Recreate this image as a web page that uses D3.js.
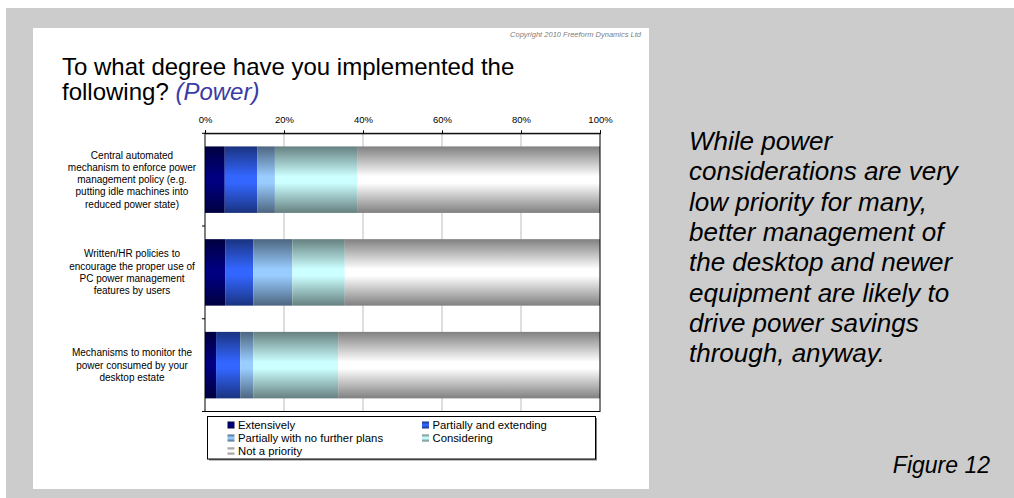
<!DOCTYPE html>
<html>
<head>
<meta charset="utf-8">
<script src="https://cdn.jsdelivr.net/npm/d3@7"></script>
<style>
  html, body { margin: 0; padding: 0; background: #ffffff; }
  svg { display: block; font-family: "Liberation Sans", Arial, sans-serif; }
</style>
</head>
<body>
<svg id="chart" width="1014" height="498"></svg>
<script>
// Survey categories (label lines as drawn beside each bar)
const categories = [
  ["Central automated", "mechanism to enforce power", "management policy (e.g.", "putting idle machines into", "reduced power state)"],
  ["Written/HR policies to", "encourage the proper use of", "PC power management", "features by users"],
  ["Mechanisms to monitor the", "power consumed by your", "desktop estate"]
];

// Response series (percent of respondents, per category)
const seriesNames = ["Extensively", "Partially and extending", "Partially with no further plans", "Considering", "Not a priority"];
const extensively        = [5.0, 5.1, 2.8];
const partiallyExtending = [8.2, 7.1, 6.1];
const partiallyNoPlans   = [4.5, 9.9, 3.3];
const considering        = [20.8, 13.3, 21.5];
const notAPriority       = [61.5, 64.6, 66.3];

// Axis tick values
const xTicks = [0, 20, 40, 60, 80, 100];

const seriesColors = ["#000080", "#3366ff", "#99ccff", "#ccffff", "#ffffff"];

const seriesValues = [extensively, partiallyExtending, partiallyNoPlans, considering, notAPriority];
const rows = categories.map((c, i) => {
  const r = { key: i };
  seriesNames.forEach((s, j) => { r[s] = seriesValues[j][i]; });
  return r;
});

const svg = d3.select("#chart");
const font = '"Liberation Sans", Arial, sans-serif';

// Slide backdrop and white chart panel
svg.append("rect").attr("x", 6).attr("y", 8).attr("width", 1008).attr("height", 490).attr("fill", "#cccccc");
svg.append("rect").attr("x", 33).attr("y", 28).attr("width", 616).attr("height", 461).attr("fill", "#ffffff");

// Gradients: darker at top/bottom edges, base colour through the middle
const defs = svg.append("defs");
seriesColors.forEach((c, i) => {
  const dark = d3.interpolateRgb(c, "#000000")(0.5);
  const g = defs.append("linearGradient").attr("id", "grad" + i)
    .attr("x1", 0).attr("y1", 0).attr("x2", 0).attr("y2", 1);
  g.append("stop").attr("offset", "0%").attr("stop-color", dark);
  g.append("stop").attr("offset", "45%").attr("stop-color", c);
  g.append("stop").attr("offset", "55%").attr("stop-color", c);
  g.append("stop").attr("offset", "100%").attr("stop-color", dark);
});

// Copyright
svg.append("text").attr("x", 641).attr("y", 37).attr("text-anchor", "end")
  .attr("font-size", 7.5).attr("font-style", "italic").attr("fill", "#808080")
  .text("Copyright 2010 Freeform Dynamics Ltd");

// Title
const title = svg.append("text").attr("x", 62).attr("font-size", 24).attr("fill", "#000000");
title.append("tspan").attr("x", 62).attr("y", 75).text("To what degree have you implemented the");
title.append("tspan").attr("x", 62).attr("y", 100).text("following? ");
title.append("tspan").attr("font-style", "italic").attr("fill", "#3b3ba6").text("(Power)");

// Scales
const plotLeft = 205, plotRight = 600, plotTop = 133.3, plotBottom = 411.5;
const x = d3.scaleLinear().domain([0, 100]).range([plotLeft, plotRight]);
const y = d3.scaleBand().domain(rows.map(r => r.key)).range([plotTop, plotBottom])
  .paddingInner(0.283).paddingOuter(0.1415);

// Gridlines
svg.append("g").selectAll("line").data(xTicks.filter(t => t > 0 && t < 100)).join("line")
  .attr("x1", d => x(d)).attr("x2", d => x(d))
  .attr("y1", plotTop).attr("y2", plotBottom)
  .attr("stroke", "#c8c8c8").attr("stroke-width", 1.2);

// Stacked bars
const stack = d3.stack().keys(seriesNames);
const layers = stack(rows);
svg.append("g").selectAll("g").data(layers).join("g")
  .attr("fill", (d, i) => `url(#grad${i})`)
  .selectAll("rect").data(d => d).join("rect")
  .attr("x", d => x(d[0]))
  .attr("width", d => x(d[1]) - x(d[0]))
  .attr("y", d => y(d.data.key))
  .attr("height", y.bandwidth());

// Plot frame
svg.append("rect").attr("x", plotLeft).attr("y", plotTop)
  .attr("width", plotRight - plotLeft).attr("height", plotBottom - plotTop)
  .attr("fill", "none").attr("stroke", "#000000").attr("stroke-width", 1);

// Top percentage axis
const xAxis = d3.axisTop(x).tickValues(xTicks).tickSize(3).tickFormat(d => d + "%");
const gx = svg.append("g").attr("transform", `translate(0,${plotTop})`).call(xAxis);
gx.select(".domain").attr("stroke", "#000000");
gx.selectAll(".tick line").attr("stroke", "#000000");
gx.selectAll(".tick text").attr("font-family", font).attr("font-size", 9.5).attr("fill", "#000000").attr("dy", "-4");

// Category boundary ticks on the left axis
const step = y.step();
const boundaries = d3.range(rows.length + 1).map(i => plotTop + i * step - (i === 0 ? 0 : 0));
svg.append("g").selectAll("line").data(boundaries).join("line")
  .attr("x1", plotLeft - 3).attr("x2", plotLeft)
  .attr("y1", d => d).attr("y2", d => d)
  .attr("stroke", "#000000");

// Category labels
const lineH = 12.3;
svg.append("g").selectAll("text").data(rows).join("text")
  .attr("text-anchor", "middle").attr("font-size", 10).attr("fill", "#000000")
  .each(function (d, i) {
    const lines = categories[i];
    const cy = y(d.key) + y.bandwidth() / 2;
    const first = cy - (lines.length - 1) * lineH / 2 + 3.5;
    d3.select(this).selectAll("tspan").data(lines).join("tspan")
      .attr("x", 132).attr("y", (l, k) => first + k * lineH).text(l => l);
  });

// Legend
const lg = svg.append("g");
lg.append("rect").attr("x", 209).attr("y", 418).attr("width", 388).attr("height", 42.5).attr("fill", "#808080");
lg.append("rect").attr("x", 207.5).attr("y", 416.5).attr("width", 388).attr("height", 42.5)
  .attr("fill", "#ffffff").attr("stroke", "#000000").attr("stroke-width", 1);
const legendPos = [[227.5, 425], [422, 425], [227.5, 438], [422, 438], [227.5, 451]];
const items = lg.selectAll("g.item").data(seriesNames).join("g").attr("class", "item")
  .attr("transform", (d, i) => `translate(${legendPos[i][0]},${legendPos[i][1]})`);
items.append("rect").attr("x", 0).attr("y", -3.5).attr("width", 7).attr("height", 7)
  .attr("fill", (d, i) => `url(#grad${i})`);
items.append("text").attr("x", 10.5).attr("y", 4).attr("font-size", 11.3).attr("fill", "#000000").text(d => d);

// Commentary
const comment = ["While power", "considerations are very", "low priority for many,", "better management of",
  "the desktop and newer", "equipment are likely to", "drive power savings", "through, anyway."];
svg.append("text").attr("font-size", 26).attr("font-style", "italic").attr("fill", "#000000")
  .selectAll("tspan").data(comment).join("tspan")
  .attr("x", 689).attr("y", (d, i) => 150 + i * 30.3).text(d => d);

svg.append("text").attr("x", 990).attr("y", 473).attr("text-anchor", "end")
  .attr("font-size", 23).attr("font-style", "italic").attr("fill", "#000000").text("Figure 12");
</script>
</body>
</html>
